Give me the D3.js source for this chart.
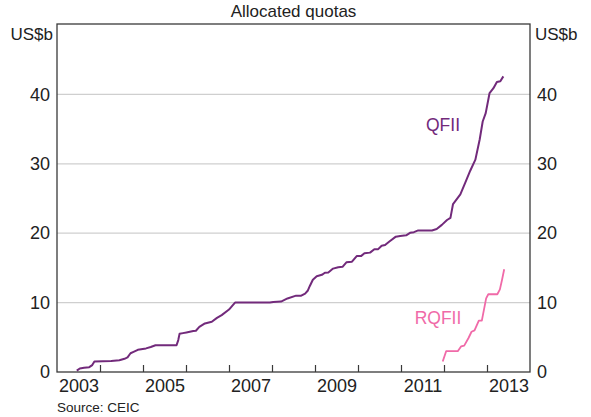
<!DOCTYPE html>
<html><head><meta charset="utf-8">
<script src="https://cdn.jsdelivr.net/npm/d3@7"></script>
<style>
body{margin:0;background:#fff;}
svg{display:block;font-family:"Liberation Sans",Arial,sans-serif;}
</style></head>
<body><svg id="c" width="591" height="417"></svg>
<script>
// Data (decimal years, US$b)
const qfiiDates = [2003.46,2003.53,2003.63,2003.75,2003.82,2003.87,2004.26,2004.45,2004.57,2004.64,2004.71,2004.78,2004.88,2005.07,2005.18,2005.29,2005.78,2005.82,2005.85,2005.93,2006.01,2006.17,2006.23,2006.31,2006.44,2006.60,2006.72,2006.83,2007.00,2007.14,2007.95,2008.03,2008.21,2008.36,2008.56,2008.68,2008.77,2008.83,2008.88,2008.95,2009.04,2009.16,2009.23,2009.31,2009.42,2009.54,2009.64,2009.73,2009.86,2009.97,2010.07,2010.15,2010.28,2010.38,2010.47,2010.55,2010.63,2010.73,2010.88,2010.98,2011.12,2011.21,2011.30,2011.40,2011.72,2011.83,2011.95,2012.07,2012.15,2012.21,2012.38,2012.49,2012.61,2012.73,2012.83,2012.90,2012.97,2013.06,2013.15,2013.23,2013.31,2013.38];
const qfiiValues = [0.2,0.5,0.6,0.7,1.0,1.5,1.6,1.7,1.9,2.1,2.7,2.9,3.2,3.4,3.6,3.85,3.85,4.6,5.5,5.6,5.7,5.9,5.95,6.5,7.0,7.25,7.8,8.2,9.0,10.0,10.0,10.1,10.15,10.6,11.0,11.0,11.3,11.7,12.4,13.3,13.8,14.0,14.3,14.35,14.9,15.1,15.15,15.8,15.9,16.7,16.7,17.1,17.2,17.7,17.7,18.2,18.3,18.8,19.5,19.6,19.7,20.05,20.15,20.4,20.4,20.6,21.2,21.9,22.2,24.2,25.6,27.2,29.0,30.6,33.5,36.1,37.3,40.2,40.9,41.8,41.9,42.6];
const rqfiiDates = [2011.97,2012.05,2012.32,2012.40,2012.47,2012.57,2012.64,2012.71,2012.81,2012.88,2012.98,2013.03,2013.24,2013.30,2013.35,2013.40];
const rqfiiValues = [1.5,3.0,3.0,3.7,3.8,4.9,5.8,6.0,7.4,7.4,10.6,11.2,11.2,11.9,13.3,14.8];
const yTicks = [0,10,20,30,40];
const yearTicks = [2004,2005,2006,2007,2008,2009,2010,2011,2012,2013];
const yearLabels = [2003,2005,2007,2009,2011,2013];
const title = "Allocated quotas";
const unit = "US$b";
const source = "Source: CEIC";

const svg = d3.select("#c");
const L = 57, R = 530, T = 25, B = 372;
const x = d3.scaleLinear().domain([2003, 2014]).range([L, R]);
const y = d3.scaleLinear().domain([0, 50]).range([B, T]);
const QC = "#722a7b", RC = "#f06aa8", AX = "#3a3a3a";

// gridlines
svg.append("g").selectAll("line").data(yTicks.filter(d => d > 0)).join("line")
  .attr("x1", L).attr("x2", R).attr("y1", d => y(d)).attr("y2", d => y(d))
  .attr("stroke", "#cfcfcf").attr("stroke-width", 1.2);

// lines
const line = d3.line().x(d => x(d[0])).y(d => y(d[1]));
svg.append("path").datum(qfiiDates.map((d, i) => [d, qfiiValues[i]]))
  .attr("d", line).attr("fill", "none").attr("stroke", QC).attr("stroke-width", 2)
  .attr("stroke-linejoin", "round");
svg.append("path").datum(rqfiiDates.map((d, i) => [d, rqfiiValues[i]]))
  .attr("d", line).attr("fill", "none").attr("stroke", RC).attr("stroke-width", 1.8)
  .attr("stroke-linejoin", "round");

// x axis ticks (inside)
const xa = svg.append("g").attr("transform", `translate(0,${B})`)
  .call(d3.axisBottom(x).tickValues(yearTicks).tickSize(-7).tickFormat(""));
xa.select(".domain").remove();
xa.selectAll("line").attr("stroke", AX).attr("stroke-width", 1.2);
const xl = svg.append("g").attr("transform", `translate(0,${B})`)
  .call(d3.axisBottom(x).tickValues(yearLabels.map(d => d + 0.5)).tickSize(0).tickPadding(7)
    .tickFormat(d => String(Math.floor(d))));
xl.select(".domain").remove();
xl.selectAll("text").attr("font-size", 18).attr("fill", "#222").attr("font-family", null);

// y axes labels
const yl = svg.append("g").attr("transform", `translate(${L},0)`)
  .call(d3.axisLeft(y).tickValues(yTicks).tickSize(0).tickPadding(7));
yl.select(".domain").remove();
yl.selectAll("text").attr("font-size", 18).attr("fill", "#222").attr("font-family", null);
const yr = svg.append("g").attr("transform", `translate(${R},0)`)
  .call(d3.axisRight(y).tickValues(yTicks).tickSize(0).tickPadding(7));
yr.select(".domain").remove();
yr.selectAll("text").attr("font-size", 18).attr("fill", "#222").attr("font-family", null);

// frame
svg.append("rect").attr("x", L).attr("y", T - 1).attr("width", R - L).attr("height", B - T + 1)
  .attr("fill", "none").attr("stroke", AX).attr("stroke-width", 1.3);

// texts
svg.append("text").attr("x", (L + R) / 2).attr("y", 17).attr("text-anchor", "middle")
  .attr("font-size", 17).attr("fill", "#222").text(title);
svg.append("text").attr("x", L - 4).attr("y", 40).attr("text-anchor", "end")
  .attr("font-size", 17).attr("fill", "#222").text(unit);
svg.append("text").attr("x", R + 5).attr("y", 40).attr("text-anchor", "start")
  .attr("font-size", 17).attr("fill", "#222").text(unit);
svg.append("text").attr("x", L).attr("y", 412).attr("font-size", 13.5).attr("fill", "#222").text(source);
svg.append("text").attr("x", 443).attr("y", 131).attr("text-anchor", "middle")
  .attr("font-size", 17.5).attr("fill", QC).text("QFII");
svg.append("text").attr("x", 438).attr("y", 324).attr("text-anchor", "middle")
  .attr("font-size", 17.5).attr("fill", RC).text("RQFII");
</script></body></html>
